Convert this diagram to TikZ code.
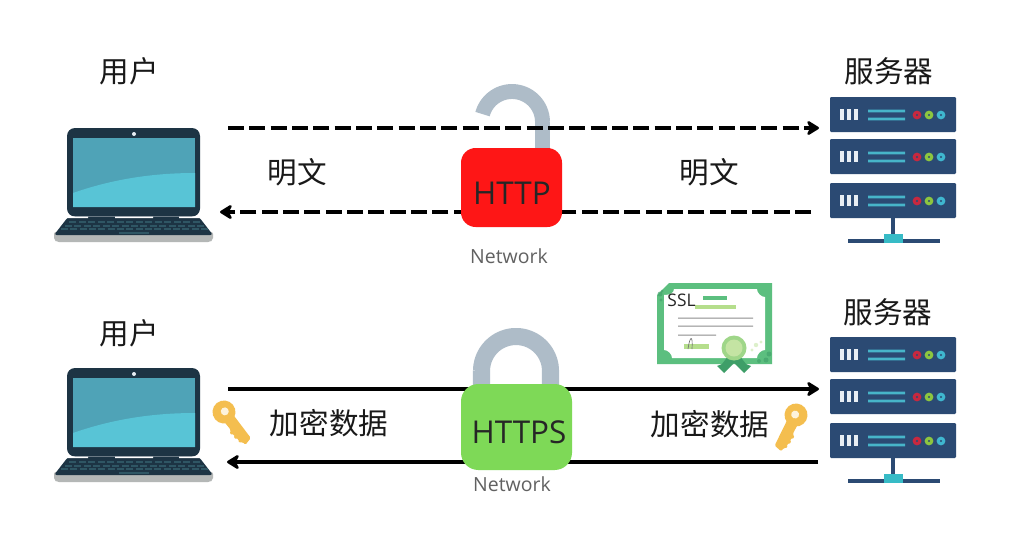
\documentclass[tikz,border=0pt]{standalone}
\usepackage{fontspec}
\setmainfont{Open Sans}
\newfontfamily\cjk{Noto Sans CJK SC}
\usetikzlibrary{arrows.meta}
\definecolor{lid}{HTML}{1D3444}
\definecolor{scrA}{HTML}{4FA3B7}
\definecolor{scrB}{HTML}{58C4D6}
\definecolor{silver}{HTML}{B4B7B6}
\definecolor{keycap}{HTML}{2F5664}
\definecolor{srv}{HTML}{2B4A73}
\definecolor{srvbar}{HTML}{E8EEF4}
\definecolor{srvline}{HTML}{47B5C9}
\definecolor{srvteal}{HTML}{37BBC6}
\definecolor{ledR}{HTML}{C8283F}
\definecolor{ledG}{HTML}{8DC63F}
\definecolor{ledB}{HTML}{3FB7CF}
\definecolor{shackle}{HTML}{AEBCC8}
\definecolor{lockred}{HTML}{FE1616}
\definecolor{lockgreen}{HTML}{7ED957}
\definecolor{certG}{HTML}{5CBF7F}
\definecolor{certD}{HTML}{3E9E68}
\definecolor{certL}{HTML}{B5DE8C}
\definecolor{keygold}{HTML}{F4BE4F}
\definecolor{keyhole}{HTML}{FDF3DC}
\tikzset{
  x=0.75pt,y=-0.75pt,
  label cn/.style={font=\cjk\fontsize{22.2}{26}\selectfont,text=black!90,inner sep=0pt},
  lock text/.style={font=\fontsize{23.6}{27}\selectfont,text=black!85,inner sep=0pt},
  net text/.style={font=\fontsize{14.6}{17}\selectfont,text=black!62,inner sep=0pt},
  lock body/.style={rounded corners=11pt,inner sep=0pt,draw=none},
  conn/.style={line width=3.2pt,black,-{Stealth[length=11pt,width=13.5pt,inset=3.5pt,round]}},
  conn dash/.style={conn,dash pattern=on 12pt off 4pt},
  laptop/.pic={
    \fill[silver,rounded corners=1.5pt] (54,232) -- (213,232) -- (213,240) -- (210,242) -- (57,242) -- (54,240) -- cycle;
    \fill[lid,rounded corners=2pt] (68,217) -- (199,217) -- (213,235) -- (54,235) -- cycle;
    \fill[lid,rounded corners=6pt] (67,128) rectangle (200,216.5);
    \fill[white] (67,216.5) rectangle (88,218) (115,216.5) rectangle (153,218) (179,216.5) rectangle (200,218);
    \fill[scrA] (73,138) rectangle (195,207);
    \fill[scrB] (73,193) .. controls (110,180) and (150,173) .. (195,173) -- (195,207) -- (73,207) -- cycle;
    \fill[srvbar] (134,134) circle (2);
    \foreach \r/\a/\n in {221.6/72/14,225.7/68/15,229.3/64/16}{
      \foreach \k in {1,...,\n}{
        \fill[keycap] ({\a+(\k-1)*(134-\a)*2/(\n-1)-3},{\r-0.9}) rectangle ++(7,1.8);
      }
    }
    \fill[keycap] (119,232.2) rectangle (149,234);
  },
  server/.pic={
    \draw[srv,line width=2.4pt] (893,218) -- (893,238);
    \draw[srv,line width=2.6pt] (848,241) -- (940,241);
    \fill[srvteal] (884,234) rectangle (903,243);
    \foreach \o in {0,42,86}{
      \fill[srv,rounded corners=0.8pt] (830,97+\o) rectangle (956,132+\o);
      \foreach \b in {842,849,856}{\fill[srvbar] (\b-1.7,109+\o) rectangle (\b+1.7,120+\o);}
      \fill[srvline] (868,109.7+\o) rectangle (905,112.3+\o) (868,117.7+\o) rectangle (905,120.3+\o);
      \fill[ledR] (917,115+\o) circle (4.4);
      \fill[ledG] (929,115+\o) circle (4.4);
      \fill[ledB] (941,115+\o) circle (4.4);
      \fill[srv] (917,115+\o) circle (1.1) (929,115+\o) circle (1.1) (941,115+\o) circle (1.1);
    }
  },
  keyicon/.pic={
    \fill[keygold] (0,0) circle (11.5);
    \fill[keyhole] (0,-1) circle (4);
    \fill[keygold,rounded corners=1pt] (6,-5.5) -- (37,-4.5) -- (39,4) -- (35,4.5) -- (33,8) -- (30,5.5) -- (27,9) -- (24,6) -- (21,9.5) -- (18,6) -- (6,6) -- cycle;
  },
  cert/.pic={
    \fill[certG] (657,295) -- (669,283) -- (772,283) -- (772,364) -- (657,364) -- cycle;
    \fill[white] (664,295) .. controls (670,295) and (674,293) .. (674,289) -- (757,289)
      .. controls (757,293) and (761,297) .. (765,297) -- (765,350)
      .. controls (761,350) and (757,354) .. (757,358) -- (672,358)
      .. controls (672,354) and (668,350) .. (664,350) -- cycle;
    \fill[certD,opacity=.6] (660,294) circle (2.5) (661,300) circle (1.7) (662,291) circle (1.5) (769,354) circle (2.5) (766,360) circle (2.5) (759,361) circle (2);
    \fill[certL,opacity=.45] (756,345) circle (2.2) (761,342) circle (1.6) (752,350) circle (1.6);
    \fill[certG] (703,296) rectangle (727,300);
    \fill[certL] (695,305) rectangle (736,309);
    \fill[black!45] (678,317.5) rectangle (753,318.5) (678,325.7) rectangle (753,326.7) (678,334.5) rectangle (716,335.5);
    \fill[certL] (684,344) rectangle (709,349);
    \draw[black!55,line width=.5pt] (688,349) .. controls (690,335) and (693,335) .. (692,349);
    \fill[certD] (722,364) -- (717,366) -- (724,373) -- (735,362) -- (729,355) -- cycle;
    \fill[certD] (746,364) -- (751,366) -- (744,373) -- (733,362) -- (739,355) -- cycle;
    \fill[certL!75!certG] (734,348) circle (12.5);
    \fill[certL!80!white] (734,348) circle (8.5);
  }
}
\begin{document}
\begin{tikzpicture}
\useasboundingbox (0,0) rectangle (1024,536);
\fill[white] (0,0) rectangle (1024,536);

% devices
\pic (laptopA) at (0,0) {laptop};
\pic (laptopB) at (0,240) {laptop};
\pic (serverA) at (0,0) {server};
\pic (serverB) at (0,240) {server};
\pic (certificate) at (0,0) {cert};

% connector ends
\coordinate (a1) at (228,128);
\coordinate (a2) at (819,128);
\coordinate (b1) at (811,212);
\coordinate (b2) at (220,212);
\coordinate (c1) at (228,389);
\coordinate (c2) at (819,389);
\coordinate (d1) at (818,462);
\coordinate (d2) at (227,462);

% HTTP lock shackle, then connector over it
\draw[shackle,line width=11.2pt] plot[domain=0:165,samples=40] ({512+30.5*cos(\x)},{122-30.5*sin(\x)}) (542.5,122) -- (542.5,152);
\draw[conn dash] (a1) -- (a2);
\draw[conn dash] (b1) -- (b2);
\node[lock body,fill=lockred,minimum width=75.75pt,minimum height=59.25pt] (httpbody) at (511.5,187.5) {};

% HTTPS lock
\draw[conn] (c1) -- (c2);
\draw[conn] (d1) -- (d2);
\draw[shackle,line width=12.8pt] (481.5,390) -- (481.5,371) plot[domain=180:0,samples=40] ({516+34.5*cos(\x)},{371-34.5*sin(\x)}) -- (550.5,390);
\node[lock body,rounded corners=13pt,fill=lockgreen,minimum width=83.25pt,minimum height=64.5pt] (httpsbody) at (516.5,427) {};

% lock text
\node[lock text] (httplabel) at (512,193) {HTTP};
\node[lock text] (httpslabel) at (519,432) {HTTPS};
\node[net text] (netA) at (509,256) {Network};
\node[net text] (netB) at (512,484) {Network};

% labels
\node[label cn] (userA) at (129,71) {用户};
\node[label cn] (userB) at (129,333) {用户};
\node[label cn] (srvA) at (889,71) {服务器};
\node[label cn] (srvB) at (888,312) {服务器};
\node[label cn] (plainA) at (297,172) {明文};
\node[label cn] (plainB) at (709,172) {明文};
\node[label cn] (encA) at (329,423) {加密数据};
\node[label cn] (encB) at (710,424) {加密数据};
\node[font=\fontsize{13}{15}\selectfont,text=black!85,inner sep=0pt] (ssl) at (681.5,300) {SSL};

% keys
\pic[rotate=-51] (keyA) at (224,412) {keyicon};
\pic[rotate=-118,yscale=-1] (keyB) at (796,415) {keyicon};
\end{tikzpicture}
\end{document}
